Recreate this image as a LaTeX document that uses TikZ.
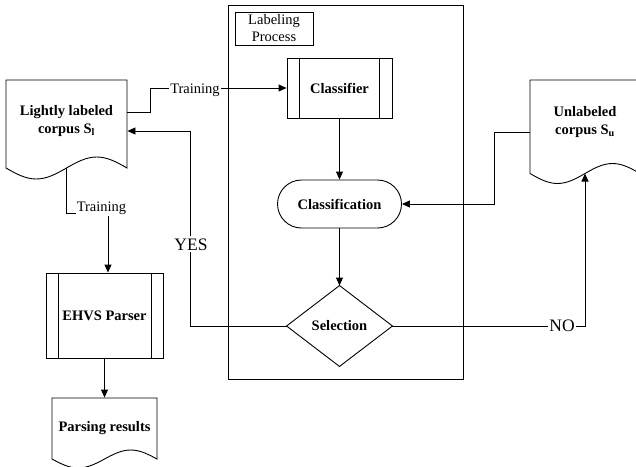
\documentclass[tikz,border=0pt]{standalone}
\usepackage{fontspec}
\setmainfont{Liberation Serif}
\usetikzlibrary{arrows.meta,calc}
\begin{document}
\begin{tikzpicture}[x=1pt,y=-1pt,
  line width=0.9pt,
  every node/.style={font=\fontsize{14.5}{18}\selectfont},
  arr/.style={-{Triangle[length=8pt,width=7pt]}},
  bold/.style={font=\fontsize{14.5}{18}\selectfont\bfseries},
  lbl/.style={fill=white, inner xsep=1pt, inner ysep=2pt, anchor=base},
  biglbl/.style={fill=white, inner xsep=1pt, inner ysep=2pt, anchor=base, font=\fontsize{17.5}{20}\selectfont},
  procbox/.style={draw, bold, inner sep=0pt},
  doctext/.style={bold, align=center, inner sep=0pt}]
\useasboundingbox (0,0) rectangle (636,466);

% Labeling process frame
\node[draw, minimum width=235, minimum height=374, inner sep=0pt] (lp) at (345.5,192) {};
\node[draw, align=center, inner sep=0pt, minimum width=78, minimum height=33,
      font=\fontsize{14.5}{17}\selectfont] (lpt) at (274,28.5) {Labeling\\Process};

% Classifier (predefined process)
\node[procbox, minimum width=105, minimum height=60] (cls) at (339.5,88) {Classifier};
\draw ([xshift=13]cls.north west) -- ([xshift=13]cls.south west);
\draw ([xshift=-13]cls.north east) -- ([xshift=-13]cls.south east);

% Classification (terminator)
\node[procbox, rounded corners=24pt, minimum width=124, minimum height=48] (cf) at (339.5,204) {Classification};

% Selection (decision)
\node[bold, minimum width=105, minimum height=80, inner sep=0pt] (sel) at (339.5,326) {Selection};
\draw (sel.north) -- (sel.east) -- (sel.south) -- (sel.west) -- cycle;

% EHVS Parser
\node[procbox, minimum width=117, minimum height=85] (ehvs) at (104.5,315.5) {EHVS Parser};
\draw ([xshift=12.5]ehvs.north west) -- ([xshift=12.5]ehvs.south west);
\draw ([xshift=-12.5]ehvs.north east) -- ([xshift=-12.5]ehvs.south east);

% Documents
\node[doctext, minimum width=121] (lit) at (66.5,121) {Lightly labeled\\corpus S\textsubscript{l}};
\draw (6,168) -- (6,80) -- (127,80) -- (127,168) sin (96.75,157) cos (66.5,168)
      sin (36.25,179) cos (6,168) -- cycle;
\coordinate (litb) at (66.5,168);

\node[doctext, minimum width=110] (unl) at (585,122) {Unlabeled\\corpus S\textsubscript{u}};
\draw (530,173.5) -- (530,80) -- (640,80) -- (640,173.5) sin (612.5,163.5) cos (585,173.5)
      sin (557.5,183.5) cos (530,173.5) -- cycle;
\coordinate (unlb) at (585,173.5);

\node[bold, minimum width=105, minimum height=61, inner sep=0pt] (par) at (104.5,428.5) {Parsing results};
\draw (52,459) -- (52,398) -- (157,398) -- (157,459) sin (130.75,450) cos (104.5,459)
      sin (78.25,468) cos (52,459) -- cycle;

% Connectors
\draw[arr] ([yshift=9]lit.east) -- ++(23,0) |- (cls.west);
\node[lbl] (tr1) at (195,93.3) {Training};

\draw[arr] (litb) -- ++(0,45) -| ([xshift=3.5]ehvs.north);
\node[lbl] (tr2) at (101.5,211) {Training};

\draw[arr] (cls.south) -- (cf.north);
\draw[arr] (cf.south) -- (sel.north);
\draw[arr] ([yshift=-10]unl.west) -- ++(-35,0) |- (cf.east);

\draw[arr] (sel.west) -- ++(-96,0) |- ([yshift=-10]lit.east);
\node[biglbl] (yes) at (191,250) {YES};

\draw[arr] (sel.east) -| (unlb);
\node[biglbl] (no) at (562,331.5) {NO};

\draw[arr] (ehvs.south) -- (par.north);
\end{tikzpicture}
\end{document}
